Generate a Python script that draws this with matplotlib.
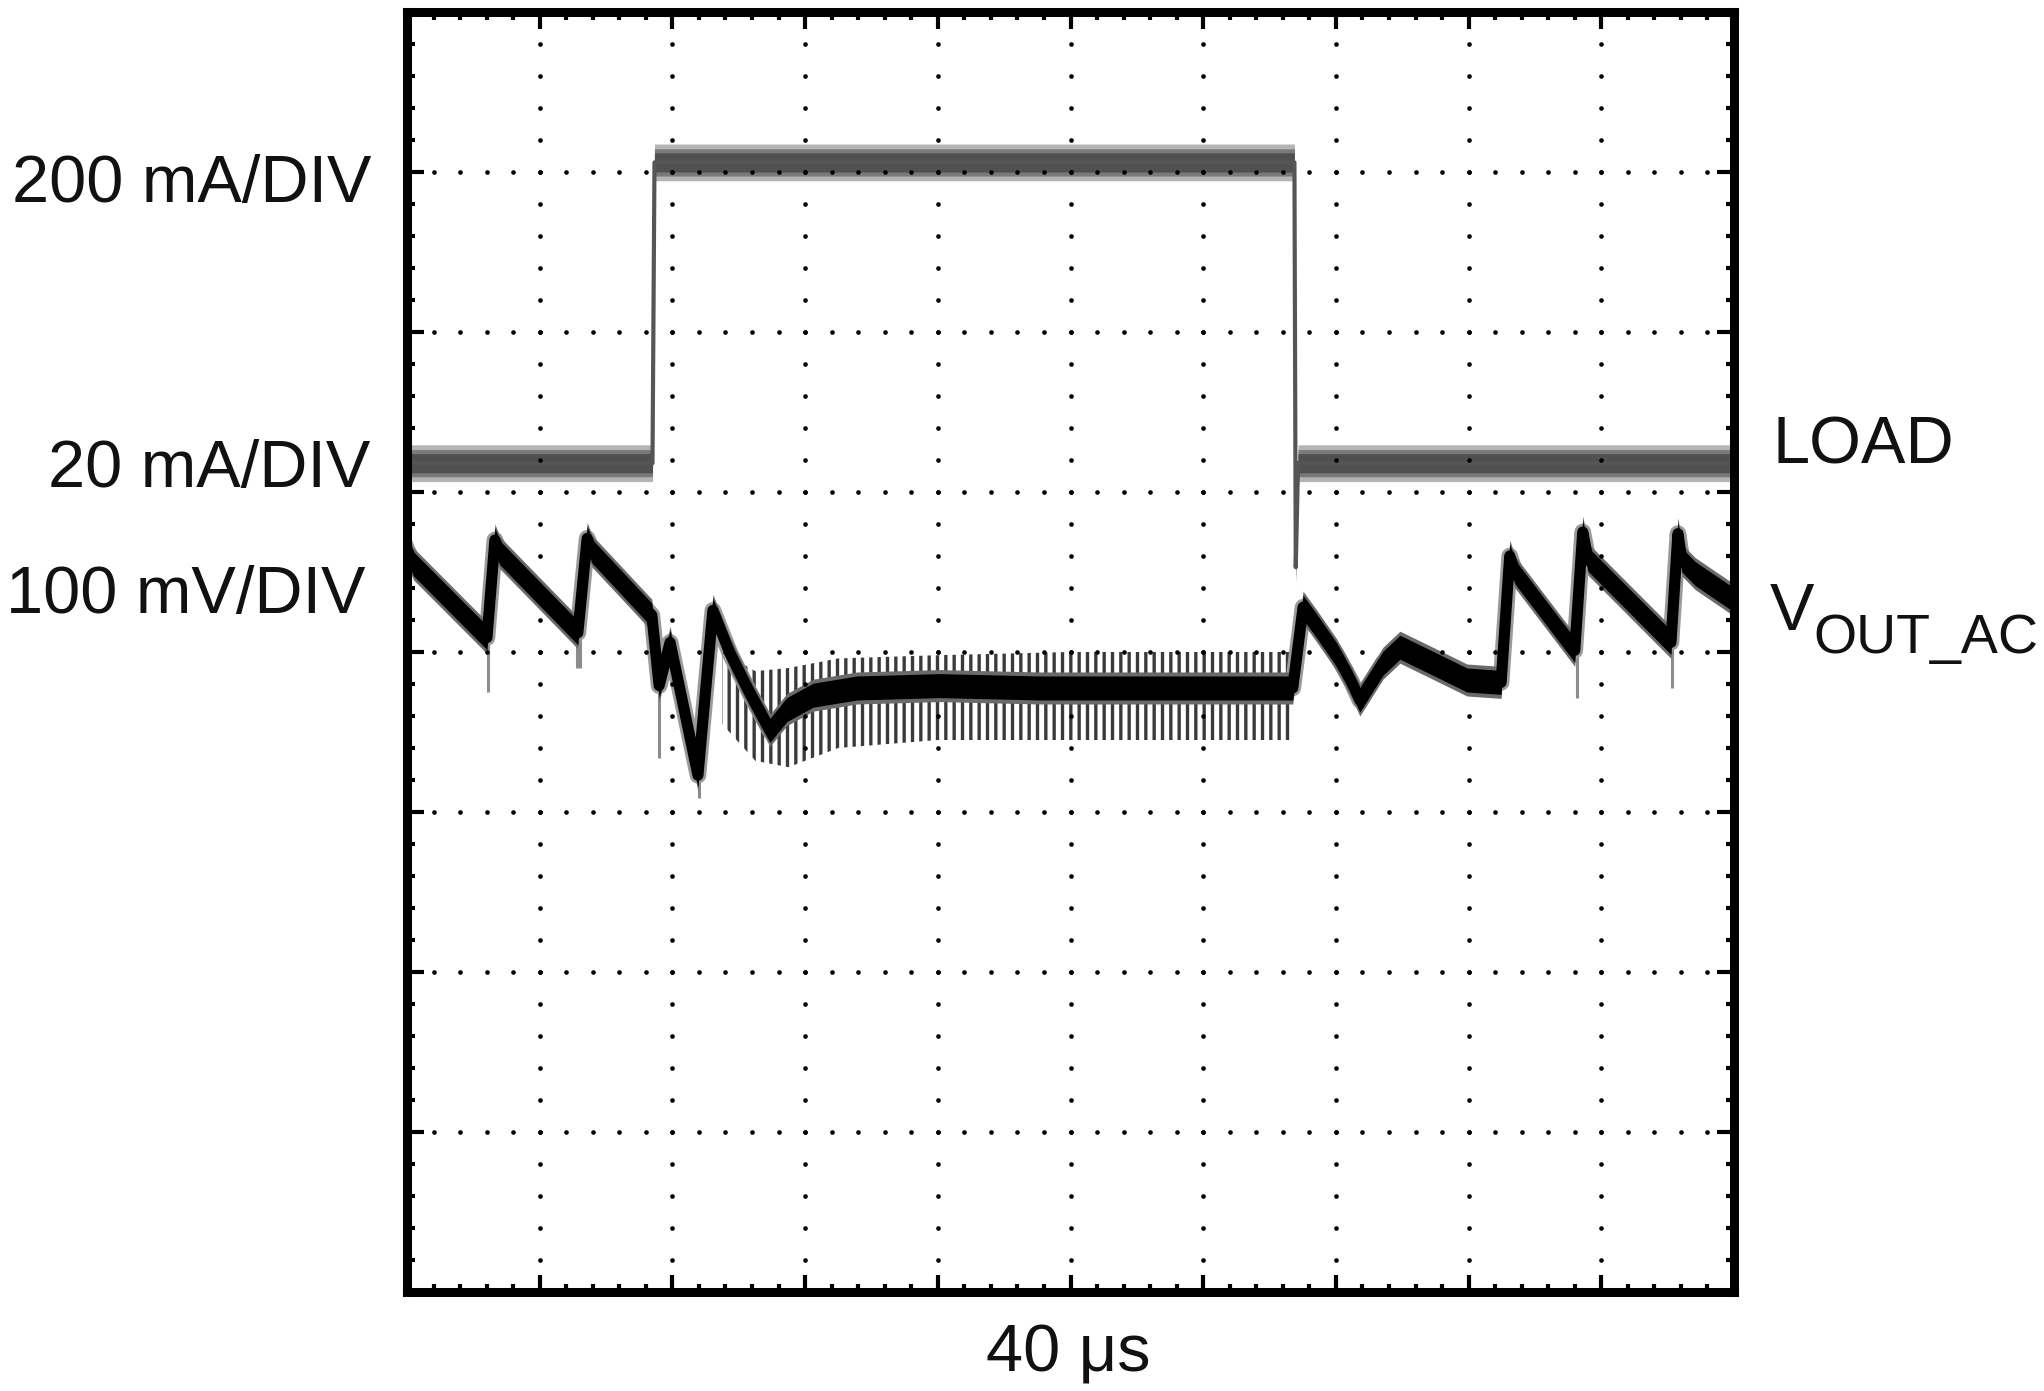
import numpy as np
import matplotlib
matplotlib.use("Agg")
import matplotlib.pyplot as plt

plt.rcParams['font.family'] = ['Liberation Sans', 'DejaVu Sans']
plt.rcParams['hatch.linewidth'] = 2.4

# scope capture: time in us (40 us/div, 10 div), y in divisions (0..8 from bottom)
# LOAD step (gray trace)
load_t = [0, 74.0, 74.6, 267.5, 267.9, 268.6, 400]
load_y = [5.18, 5.18, 7.06, 7.06, 4.53, 5.18, 5.18]

# VOUT_AC (black trace), center of the noisy band
vout_t = [0, 2.0, 24.1, 26.5, 28.0, 51.5, 54.3, 55.8, 73.8, 76.0, 79.3, 87.7,
          92.2, 97.4, 103.4, 109.4, 114.5, 122.4, 135.6, 160.6, 190.8, 267.0,
          270.1, 274.3, 280.3, 284.8, 287.2, 294.2, 299.3, 309.2, 319.5, 329.8,
          332.4, 334.0, 352.0, 354.4, 356.0, 381.0, 383.1, 384.3, 388.3, 400]
vout_y = [4.64, 4.55, 4.09, 4.70, 4.62, 4.12, 4.71, 4.63, 4.23, 3.79, 4.06, 3.23,
          4.26, 3.99, 3.74, 3.51, 3.64, 3.73, 3.775, 3.79, 3.775, 3.775,
          4.28, 4.16, 3.98, 3.81, 3.70, 3.93, 4.03, 3.93, 3.825, 3.81,
          4.60, 4.50, 4.01, 4.75, 4.58, 4.06, 4.74, 4.575, 4.49, 4.325]

# thin downward glitches on VOUT
spike_t = [24.4, 51.3, 52.2, 76.0, 87.9, 352.6, 381.3]
spike_top = [4.10, 4.12, 4.12, 3.80, 3.30, 4.00, 4.06]
spike_bot = [3.75, 3.90, 3.90, 3.34, 3.09, 3.71, 3.775]

# ripple envelope while the load is high
ripple_t = [95, 105, 115, 130, 160, 200, 267]
ripple_hi = [4.00, 3.88, 3.90, 3.96, 3.98, 4.00, 4.00]
ripple_lo = [3.55, 3.32, 3.28, 3.40, 3.45, 3.45, 3.45]

fig = plt.figure(figsize=(20.44, 13.91), dpi=100)
ax = fig.add_axes([407/2044, 99/1391, 1327/2044, 1280/1391])
ax.set_xlim(0, 400)
ax.set_ylim(0, 8)

lt = np.array(load_t); ly = np.array(load_y)
vt = np.array(vout_t); vy = np.array(vout_y)

# ripple spikes
ax.fill_between(ripple_t, ripple_lo, ripple_hi, facecolor='none', edgecolor='#3a3a3a',
                hatch='||', linewidth=0, zorder=2)
ax.vlines(spike_t, spike_bot, spike_top, color='#8c8c8c', lw=2.2, zorder=2)

# VOUT band (fuzzy edge, then solid core)
ax.plot(vt, vy, color='#9a9a9a', lw=12, solid_joinstyle='round', zorder=3)
ax.fill_between(vt, vy - 0.1, vy + 0.1, color='#6a6a6a', lw=0, zorder=3)
ax.plot(vt, vy, color='black', lw=8, solid_joinstyle='round', zorder=4)
ax.fill_between(vt, vy - 0.075, vy + 0.075, color='black', lw=0, zorder=4)

# LOAD band
ax.fill_between(lt, ly - 0.115, ly + 0.115, color='#b4b4b4', lw=0, zorder=3)
ax.fill_between(lt, ly - 0.085, ly + 0.085, color='#7a7a7a', lw=0, zorder=3)
ax.fill_between(lt, ly - 0.06, ly + 0.06, color='#505050', lw=0, zorder=4)
ax.plot(lt, ly, color='#555555', lw=3, zorder=4)

# dotted graticule
for i in range(1, 10):
    ax.scatter(np.full(39, 40 * i), np.arange(1, 40) * 0.2, s=11, color='black',
               lw=0, zorder=5)
for j in range(1, 8):
    ax.scatter(np.arange(1, 50) * 8, np.full(49, j), s=11, color='black',
               lw=0, zorder=5)

ax.set_xticks(np.arange(0, 401, 40))
ax.set_xticks(np.arange(0, 401, 8), minor=True)
ax.set_yticks(np.arange(0, 9))
ax.set_yticks(np.arange(0, 8.01, 0.2), minor=True)
ax.tick_params(which='both', direction='in', top=True, right=True, bottom=True, left=True,
               labelbottom=False, labelleft=False, width=3, color='black')
ax.tick_params(which='major', length=12)
ax.tick_params(which='minor', length=6)
for s in ax.spines.values():
    s.set_linewidth(6.5)
    s.set_zorder(6)

W, H = 2044, 1391
def label(x, y, s, size=48, ha='left'):
    fig.text(x / W, 1 - y / H, s, fontsize=size, ha=ha, va='baseline', color='#111111')

label(372, 202, '200 mA/DIV', ha='right')
label(370, 487, '20 mA/DIV', ha='right')
label(366, 613, '100 mV/DIV', ha='right')
label(1772, 463, 'LOAD')
label(1770, 630, 'V')
label(1813, 653, 'OUT_AC', size=40)
label(1068, 1372, '40 μs', ha='center')

fig.savefig('out.png', dpi=100)
